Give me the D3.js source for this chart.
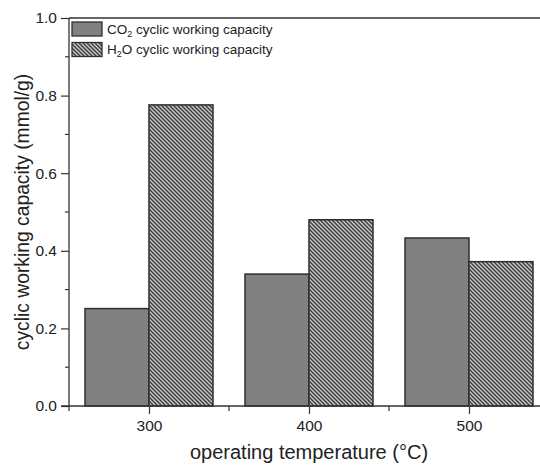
<!DOCTYPE html>
<html>
<head>
<meta charset="utf-8">
<script src="https://cdn.jsdelivr.net/npm/d3@7"></script>
<style>
  html, body { margin: 0; padding: 0; background: #fff; }
  svg { display: block; font-family: Arial, "Liberation Sans", sans-serif; }
</style>
</head>
<body>
<svg id="chart" width="540" height="467"></svg>
<script>
// Operating temperatures (°C) and cyclic working capacities (mmol/g)
const temperatures = [300, 400, 500];
const co2Capacity = [0.251, 0.340, 0.433];
const h2oCapacity = [0.776, 0.480, 0.372];
const yTicks = [0.0, 0.2, 0.4, 0.6, 0.8, 1.0];
const xTicks = [300, 400, 500];
const seriesNames = ["CO2 cyclic working capacity", "H2O cyclic working capacity"];

const svg = d3.select("#chart");
const fontFamily = "Arial, 'Liberation Sans', sans-serif";

const x = d3.scaleLinear().domain([250, 550]).range([69, 549]);
const y = d3.scaleLinear().domain([0, 1]).range([406, 18]);
const barWidth = 40; // in temperature units

// Hatch pattern for the H2O bars
const defs = svg.append("defs");
const pat = defs.append("pattern")
  .attr("id", "hatch")
  .attr("patternUnits", "userSpaceOnUse")
  .attr("width", 4).attr("height", 4);
pat.append("rect").attr("width", 4).attr("height", 4).attr("fill", "#c4c4c4");
pat.append("path")
  .attr("d", "M-1,-1 L5,5 M-1,3 L1,5 M3,-1 L5,1")
  .attr("stroke", "#3a3a3a").attr("stroke-width", 1.3);

// Bars
const stroke = "#2e2e2e";
svg.append("g").selectAll("rect").data(temperatures).join("rect")
  .attr("x", d => x(d - barWidth))
  .attr("y", (d, i) => y(co2Capacity[i]))
  .attr("width", d => x(d) - x(d - barWidth))
  .attr("height", (d, i) => y(0) - y(co2Capacity[i]))
  .attr("fill", "#808080").attr("stroke", stroke).attr("stroke-width", 1.5);

svg.append("g").selectAll("rect").data(temperatures).join("rect")
  .attr("x", d => x(d))
  .attr("y", (d, i) => y(h2oCapacity[i]))
  .attr("width", d => x(d + barWidth) - x(d))
  .attr("height", (d, i) => y(0) - y(h2oCapacity[i]))
  .attr("fill", "url(#hatch)").attr("stroke", stroke).attr("stroke-width", 1.5);

const axisColor = "#333";

// Top frame line
svg.append("line")
  .attr("x1", x(250)).attr("x2", 540)
  .attr("y1", y(1)).attr("y2", y(1))
  .attr("stroke", axisColor).attr("stroke-width", 1.3);

// Y axis with major and minor ticks
const yAxis = svg.append("g").attr("transform", `translate(${x(250)},0)`)
  .call(d3.axisLeft(y).tickValues(yTicks).tickFormat(d3.format(".1f")).tickSize(8).tickPadding(4))
  .call(g => g.select(".domain").attr("stroke", axisColor).attr("stroke-width", 1.3).attr("d", `M0,${y(0)}V${y(1)}`));
yAxis.selectAll(".tick line").attr("stroke", axisColor).attr("stroke-width", 1.2);
yAxis.selectAll(".tick text").attr("font-size", 15.5).attr("fill", "#222").attr("font-family", fontFamily);
svg.append("g").selectAll("line").data([0.1, 0.3, 0.5, 0.7, 0.9]).join("line")
  .attr("x1", x(250) - 4).attr("x2", x(250))
  .attr("y1", d => y(d)).attr("y2", d => y(d))
  .attr("stroke", axisColor).attr("stroke-width", 1.2);

// X axis with major and minor ticks
const xAxis = svg.append("g").attr("transform", `translate(0,${y(0)})`)
  .call(d3.axisBottom(x).tickValues(xTicks).tickSize(8).tickPadding(6))
  .call(g => g.select(".domain").attr("stroke", axisColor).attr("stroke-width", 1.3).attr("d", `M${x(250) - 8},0H540`));
xAxis.selectAll(".tick line").attr("stroke", axisColor).attr("stroke-width", 1.2);
xAxis.selectAll(".tick text").attr("font-size", 15.5).attr("fill", "#222").attr("font-family", fontFamily);
svg.append("g").selectAll("line").data([250, 350, 450]).join("line")
  .attr("x1", d => x(d)).attr("x2", d => x(d))
  .attr("y1", y(0)).attr("y2", y(0) + 5)
  .attr("stroke", axisColor).attr("stroke-width", 1.2);

// Axis titles
svg.append("text")
  .attr("x", 309).attr("y", 459)
  .attr("text-anchor", "middle").attr("font-size", 20).attr("fill", "#222")
  .text("operating temperature (°C)");
svg.append("text")
  .attr("transform", `translate(29,${(y(0) + y(1)) / 2}) rotate(-90)`)
  .attr("text-anchor", "middle").attr("font-size", 19.3).attr("fill", "#222")
  .text("cyclic working capacity (mmol/g)");

// Legend
const legend = svg.append("g");
const legendItems = [
  { fill: "#808080", name: seriesNames[0], main: "CO", sub: "2", rest: " cyclic working capacity" },
  { fill: "url(#hatch)", name: seriesNames[1], main: "H", sub: "2", rest: "O cyclic working capacity" }
];
legendItems.forEach((it, i) => {
  const yy = 22 + i * 20.5;
  legend.append("rect")
    .attr("x", 72).attr("y", yy).attr("width", 30).attr("height", 14)
    .attr("fill", it.fill).attr("stroke", stroke).attr("stroke-width", 1.3);
  const t = legend.append("text")
    .attr("x", 107).attr("y", yy + 11.5)
    .attr("font-size", 13.5).attr("fill", "#222");
  t.append("tspan").text(it.main);
  t.append("tspan").attr("font-size", 9).attr("dy", 3).text(it.sub);
  t.append("tspan").attr("dy", -3).text(it.rest);
});
</script>
</body>
</html>
